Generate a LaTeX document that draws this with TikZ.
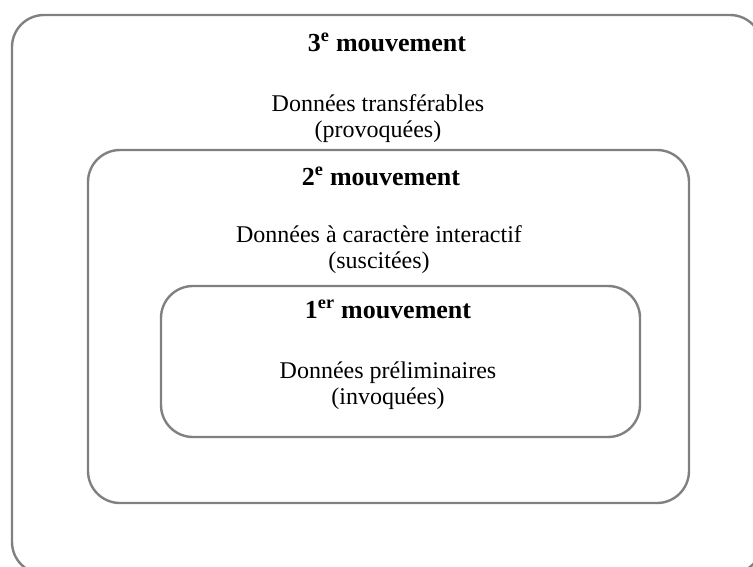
\documentclass[tikz,border=0pt]{standalone}
\usepackage{fontspec}
\setmainfont{Liberation Serif}
\begin{document}
\begin{tikzpicture}[x=1pt,y=-1pt,
  boxline/.style={draw=black!50, line width=2.4pt, rounded corners=32pt},
  titletxt/.style={anchor=base, inner sep=0pt, font=\fontsize{26}{30}\selectfont\bfseries},
  bodytxt/.style={anchor=base, inner sep=0pt, font=\fontsize{24}{28}\selectfont}]
\useasboundingbox (0,0) rectangle (753,566);
\clip (0,0) rectangle (753,566);
\draw[boxline] (12,15) rectangle (762,574);
\draw[boxline] (88,150) rectangle (689,503);
\draw[boxline] (161,286) rectangle (640,437);
\node[titletxt] (t3) at (387,51) {3\textsuperscript{e} mouvement};
\node[bodytxt] (b3a) at (378,111) {Données transférables};
\node[bodytxt] (b3b) at (378,137) {(provoquées)};
\node[titletxt] (t2) at (381,185) {2\textsuperscript{e} mouvement};
\node[bodytxt] (b2a) at (379,242) {Données à caractère interactif};
\node[bodytxt] (b2b) at (379,268) {(suscitées)};
\node[titletxt] (t1) at (388,318) {1\textsuperscript{er} mouvement};
\node[bodytxt] (b1a) at (388,378) {Données préliminaires};
\node[bodytxt] (b1b) at (388,404) {(invoquées)};
\end{tikzpicture}
\end{document}
